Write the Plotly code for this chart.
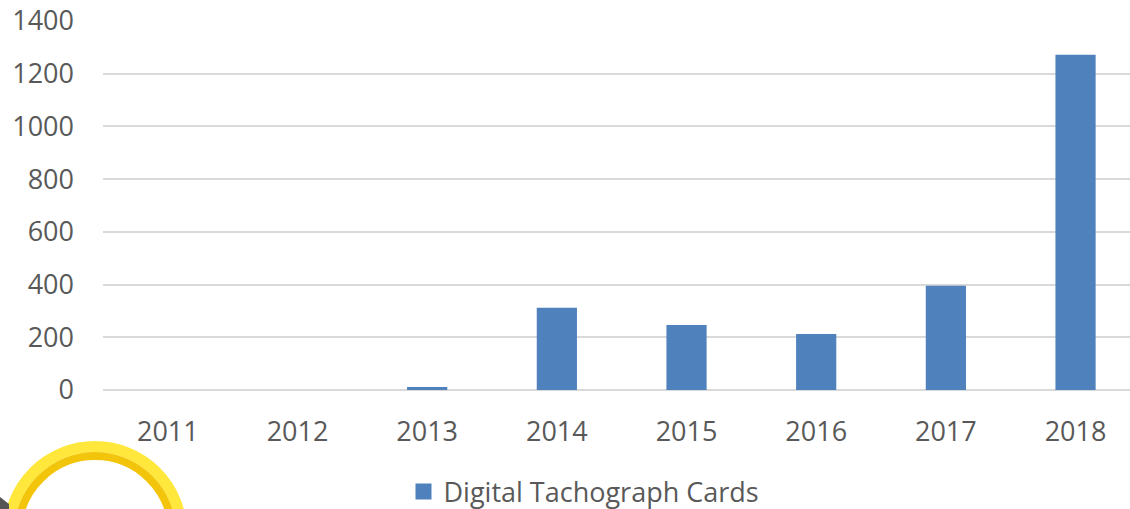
import plotly.graph_objects as go

years = ["2011", "2012", "2013", "2014", "2015", "2016", "2017", "2018"]
cards = [0, 0, 11, 312, 247, 212, 396, 1272]
y_ticks = [0, 200, 400, 600, 800, 1000, 1200, 1400]
series_name = "Digital Tachograph Cards"

W, H = 1130, 509
L, T, B, R = 103, 21, 119, 0
pw, ph = W - L - R, H - T - B

def px(x):
    return (x - L) / pw

def py(y):
    return (H - B - y) / ph

bar_color = "#4F81BD"
fig = go.Figure()
fig.add_trace(go.Bar(x=years, y=cards, name=series_name,
                     marker=dict(color=bar_color, line=dict(width=0)),
                     width=0.31, showlegend=False))
# legend entry with a larger square swatch
fig.add_trace(go.Scatter(x=[None], y=[None], mode="markers", name=series_name,
                         marker=dict(symbol="square", size=18, color=bar_color),
                         showlegend=True))

font = "Open Sans, Liberation Sans, sans-serif"
shapes = []
# decorative yellow ring (bottom-left)
cx, cy = 95, 533
for r, w, col in [(86.5, 11, "#FFE83B"), (77, 8, "#F2C40A")]:
    shapes.append(dict(type="circle", xref="paper", yref="paper",
                       x0=px(cx - r), x1=px(cx + r), y0=py(cy + r), y1=py(cy - r),
                       line=dict(color=col, width=w), fillcolor="rgba(0,0,0,0)", layer="above"))
shapes.append(dict(type="path", xref="paper", yref="paper",
                   path=f"M {px(0)},{py(497)} L {px(9)},{py(504)} L {px(9)},{py(509)} L {px(0)},{py(509)} Z",
                   fillcolor="#555555", line=dict(width=0), layer="above"))

fig.update_layout(
    width=W, height=H,
    margin=dict(l=L, r=R, t=T, b=B, pad=0, autoexpand=False),
    paper_bgcolor="white", plot_bgcolor="white",
    font=dict(family=font, size=27, color="#595959"),
    bargap=0.69,
    xaxis=dict(type="category", range=[-0.5, 7.42], showgrid=False, showline=False,
               automargin=False, ticks="", tickfont=dict(size=27, color="#595959"),
               ticklabelstandoff=23),
    yaxis=dict(range=[0, 1400], tickvals=y_ticks, showgrid=True, gridcolor="#D9D9D9",
               gridwidth=1.5, zeroline=True, zerolinecolor="#D9D9D9", zerolinewidth=1.5,
               automargin=False, showline=False, ticks="",
               tickfont=dict(size=27, color="#595959"), ticklabelstandoff=28),
    legend=dict(orientation="h", x=px(584), xanchor="center", y=py(492), yanchor="middle",
                font=dict(size=27, color="#595959"), itemwidth=30,
                bgcolor="rgba(0,0,0,0)"),
    shapes=shapes,
)

fig.write_html("out.html", config={"displayModeBar": False},
               post_script="document.body.style.margin='0';document.body.style.overflow='hidden';")
